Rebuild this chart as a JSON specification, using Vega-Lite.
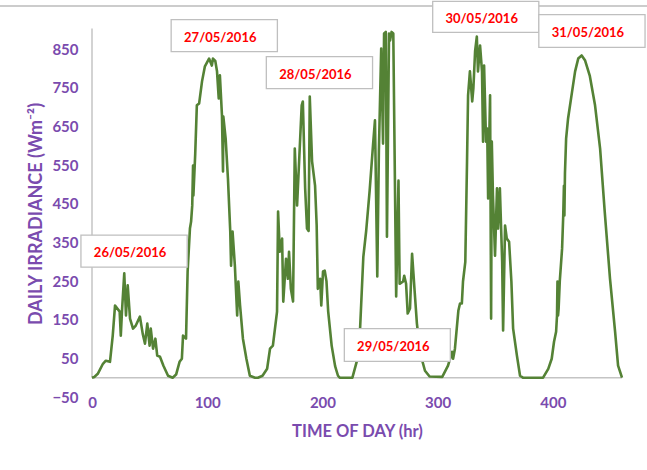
{
  "$schema": "https://vega.github.io/schema/vega-lite/v6.json",
  "width": 530,
  "height": 367,
  "autosize": "none",
  "padding": {"left": 92, "top": 30, "right": 25, "bottom": 73},
  "background": "white",
  "config": {"view": {"stroke": null}, "font": "Lato"},
  "datasets": {
    "irr": [
      {"t":0,"v":0},{"t":2,"v":2},{"t":5,"v":10},{"t":9.5,"v":36},{"t":12,"v":44},{"t":15.6,"v":41},{"t":18,"v":109},{"t":20,"v":187},{"t":24,"v":171},{"t":25,"v":109},{"t":26,"v":171},{"t":28,"v":270},{"t":29.5,"v":161},{"t":31,"v":239},{"t":33,"v":153},{"t":35.6,"v":127},{"t":38,"v":135},{"t":41.6,"v":158},{"t":44,"v":114},{"t":46,"v":88},{"t":48,"v":140},{"t":50,"v":83},{"t":51,"v":127},{"t":53,"v":75},{"t":55,"v":101},{"t":56.6,"v":57},{"t":59,"v":54},{"t":62,"v":31},{"t":66,"v":5},{"t":70,"v":0},{"t":73,"v":8},{"t":76,"v":41},{"t":78,"v":49},{"t":79,"v":109},{"t":81.6,"v":101},{"t":83,"v":275},{"t":85,"v":386},
      {"t":86,"v":404},{"t":87,"v":446},{"t":87.7,"v":549},{"t":88,"v":472},{"t":89.6,"v":580},{"t":91,"v":705},{"t":93,"v":710},{"t":95.5,"v":767},{"t":98,"v":806},{"t":101.6,"v":826},{"t":104,"v":808},{"t":105,"v":826},{"t":107,"v":820},{"t":108.5,"v":793},{"t":110,"v":723},{"t":111,"v":783},{"t":112.8,"v":679},{"t":113.7,"v":534},{"t":114,"v":676},{"t":116,"v":619},{"t":118,"v":515},{"t":120,"v":378},{"t":120.7,"v":290},{"t":122,"v":378},{"t":124,"v":290},{"t":126,"v":161},{"t":127,"v":249},{"t":128.5,"v":187},{"t":131,"v":101},{"t":134,"v":49},{"t":137,"v":5},{"t":141.5,"v":0},{"t":144,"v":0},
      {"t":148,"v":5},{"t":152,"v":23},{"t":154.5,"v":75},{"t":157,"v":83},{"t":160.6,"v":171},{"t":161.5,"v":430},{"t":163,"v":326},{"t":165,"v":360},{"t":166,"v":197},{"t":168.4,"v":308},{"t":170,"v":256},{"t":171,"v":326},{"t":172.6,"v":230},{"t":174.5,"v":197},{"t":176,"v":593},{"t":178,"v":446},{"t":180,"v":575},{"t":182,"v":705},{"t":183,"v":715},{"t":185,"v":490},{"t":186.6,"v":386},{"t":188,"v":380},{"t":189,"v":728},{"t":191,"v":560},{"t":193.6,"v":497},{"t":195,"v":394},{"t":196,"v":230},{"t":198,"v":256},{"t":199,"v":187},{"t":200.5,"v":275},{"t":202,"v":277},{"t":203.5,"v":250},{"t":205,"v":171},{"t":208,"v":83},{"t":211,"v":30},{"t":213.5,"v":5},{"t":215,"v":0},
      {"t":226,"v":0},{"t":230,"v":44},{"t":232.6,"v":122},{"t":235.5,"v":313},{"t":238,"v":381},{"t":241,"v":485},{"t":244,"v":606},{"t":245.6,"v":666},{"t":247.6,"v":262},{"t":249,"v":588},{"t":251,"v":852},{"t":252.6,"v":606},{"t":253.5,"v":891},{"t":255,"v":895},{"t":256,"v":365},{"t":257.8,"v":891},{"t":258.7,"v":873},{"t":260,"v":895},{"t":261.5,"v":891},{"t":264,"v":210},{"t":266,"v":510},{"t":267,"v":243},{"t":270,"v":249},{"t":271,"v":264},{"t":272.6,"v":243},{"t":274,"v":166},{"t":276,"v":179},{"t":277.8,"v":321},{"t":279,"v":269},{"t":280,"v":225},{"t":282,"v":140},{"t":285,"v":62},{"t":289,"v":18},{"t":293,"v":3},
      {"t":304,"v":2},{"t":309,"v":31},{"t":312.5,"v":67},{"t":313.4,"v":49},{"t":315,"v":75},{"t":318,"v":174},{"t":319.4,"v":192},{"t":321,"v":192},{"t":322,"v":249},{"t":324,"v":300},{"t":325.5,"v":560},{"t":326.4,"v":731},{"t":328,"v":793},{"t":330,"v":715},{"t":331,"v":749},{"t":332.5,"v":845},{"t":334,"v":883},{"t":335,"v":793},{"t":336.8,"v":860},{"t":338.5,"v":793},{"t":339.4,"v":611},{"t":340.3,"v":808},{"t":342,"v":611},{"t":343,"v":645},{"t":343.8,"v":464},{"t":345.5,"v":731},{"t":346.4,"v":153},{"t":347,"v":611},{"t":348,"v":472},{"t":349.8,"v":316},{"t":351.5,"v":490},{"t":352.4,"v":386},{"t":354,"v":490},{"t":356,"v":300},{"t":356.8,"v":122},{"t":357.6,"v":249},{"t":358.5,"v":394},{"t":360,"v":360},{"t":362,"v":352},{"t":364,"v":249},{"t":365.5,"v":127},{"t":368.8,"v":57},{"t":371.5,"v":5},{"t":374,"v":0},
      {"t":380,"v":0},{"t":391.5,"v":0},{"t":396,"v":23},{"t":399,"v":49},{"t":401,"v":93},{"t":402.8,"v":119},{"t":403.6,"v":161},{"t":404,"v":249},{"t":404.5,"v":161},{"t":405,"v":179},{"t":406,"v":250},{"t":408,"v":334},{"t":409,"v":420},{"t":409.6,"v":497},{"t":410,"v":420},{"t":410.5,"v":530},{"t":411.5,"v":619},{"t":413.2,"v":671},{"t":416.7,"v":741},{"t":419.3,"v":793},{"t":422,"v":826},{"t":425,"v":834},{"t":428,"v":821},{"t":432,"v":782},{"t":436.6,"v":705},{"t":441,"v":593},{"t":445,"v":430},{"t":449.6,"v":256},{"t":454,"v":119},{"t":456.6,"v":31},{"t":460,"v":0}
    ],
    "axes": [
      {"x":0,"x2":460,"y":0,"y2":0},
      {"x":0,"x2":0,"y":0,"y2":904}
    ],
    "border": [
      {"x":-80,"x2":482,"y":962,"y2":962}
    ],
    "labels": [
      {"label":"26/05/2016","x":-9.6,"x2":82.6,"y":286,"y2":369,"cx":36.5,"cy":327.5},
      {"label":"27/05/2016","x":68.7,"x2":160.9,"y":844,"y2":927,"cx":114.8,"cy":885.5},
      {"label":"28/05/2016","x":151.3,"x2":243.5,"y":748,"y2":831,"cx":197.4,"cy":789.5},
      {"label":"29/05/2016","x":219,"x2":311,"y":42,"y2":127,"cx":265,"cy":84.5},
      {"label":"30/05/2016","x":295.7,"x2":387.8,"y":894,"y2":974,"cx":341.7,"cy":934},
      {"label":"31/05/2016","x":387.8,"x2":480,"y":855,"y2":940,"cx":433.9,"cy":897.5}
    ]
  },
  "layer": [
    {
      "data": {"name": "border"},
      "mark": {"type": "rule", "color": "#CCCCCC", "strokeWidth": 2, "clip": false},
      "encoding": {
        "x": {
          "field": "x", "type": "quantitative",
          "scale": {"domain": [0, 460], "nice": false, "zero": false},
          "axis": {
            "values": [0, 100, 200, 300, 400],
            "domain": false, "ticks": false, "grid": false, "labelFlush": false,
            "labelFont": "Lato", "labelFontSize": 15, "labelFontWeight": "bold", "labelColor": "#7A4BAE",
            "labelPadding": -2,
            "title": "TIME OF DAY (hr)", "titleFont": "Lato", "titleFontSize": 16.5, "titleFontWeight": "bold",
            "titleColor": "#7A4BAE", "titlePadding": 13
          }
        },
        "x2": {"field": "x2"},
        "y": {
          "field": "y", "type": "quantitative",
          "scale": {"domain": [-50, 900], "nice": false, "zero": false},
          "axis": {
            "values": [-50, 50, 150, 250, 350, 450, 550, 650, 750, 850],
            "domain": false, "ticks": false, "grid": false,
            "labelFont": "Lato", "labelFontSize": 15, "labelFontWeight": "bold", "labelColor": "#7A4BAE",
            "labelPadding": 14,
            "title": "DAILY IRRADIANCE (Wm⁻²)", "titleFont": "Lato", "titleFontSize": 18, "titleFontWeight": "bold",
            "titleColor": "#7A4BAE", "titlePadding": 6
          }
        },
        "y2": {"field": "y2"}
      }
    },
    {
      "data": {"name": "axes"},
      "mark": {"type": "rule", "color": "#C4C4C4", "strokeWidth": 1.5},
      "encoding": {
        "x": {"field": "x", "type": "quantitative"},
        "x2": {"field": "x2"},
        "y": {"field": "y", "type": "quantitative"},
        "y2": {"field": "y2"}
      }
    },
    {
      "data": {"name": "irr"},
      "mark": {"type": "line", "color": "#548235", "strokeWidth": 2.6, "strokeJoin": "round", "clip": false},
      "encoding": {
        "x": {"field": "t", "type": "quantitative"},
        "y": {"field": "v", "type": "quantitative"},
        "order": {"field": "t", "type": "quantitative"}
      }
    },
    {
      "data": {"name": "labels"},
      "mark": {"type": "rect", "fill": "white", "stroke": "#BFBFBF", "strokeWidth": 1.3, "clip": false},
      "encoding": {
        "x": {"field": "x", "type": "quantitative"},
        "x2": {"field": "x2"},
        "y": {"field": "y", "type": "quantitative"},
        "y2": {"field": "y2"}
      }
    },
    {
      "data": {"name": "labels"},
      "mark": {"type": "text", "color": "#FF0000", "font": "Lato", "fontSize": 13, "fontWeight": "bold", "align": "center", "baseline": "middle", "dx": -4, "dy": 2},
      "encoding": {
        "x": {"field": "cx", "type": "quantitative"},
        "y": {"field": "cy", "type": "quantitative"},
        "text": {"field": "label"}
      }
    }
  ]
}
